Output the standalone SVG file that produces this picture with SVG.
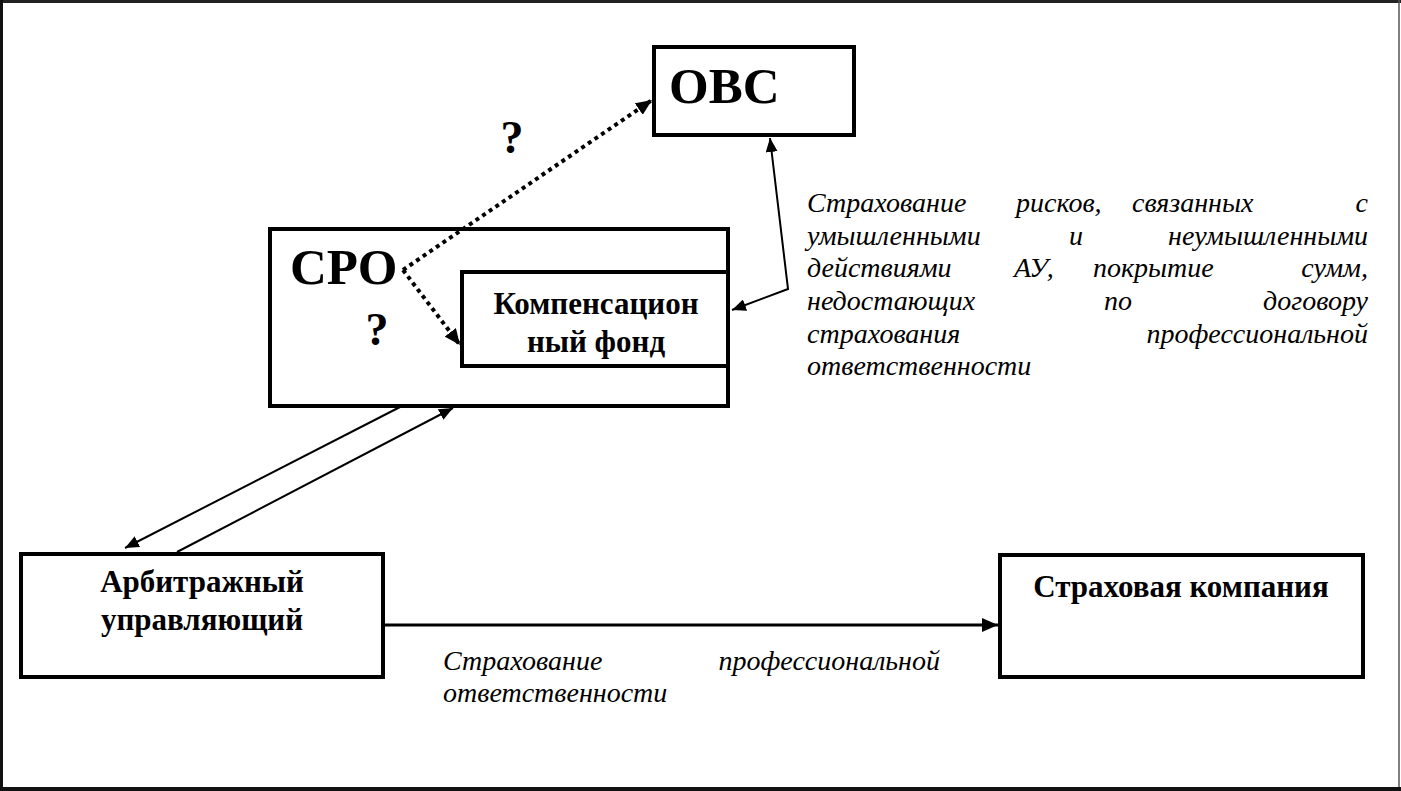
<svg xmlns="http://www.w3.org/2000/svg" width="1401" height="791" viewBox="0 0 1401 791">
<style>
.box{fill:#fff;stroke:#000;stroke-width:4}
.b{font-family:'Liberation Serif','Tinos','Times New Roman','DejaVu Serif',serif;font-weight:bold;fill:#000}
.i{font-family:'Liberation Serif','Tinos','Times New Roman','DejaVu Serif',serif;font-style:italic;font-size:28px;fill:#000}
.big{font-size:51px}
.mid{font-size:31px}
.q{font-size:46px}
.thin{fill:none;stroke:#000;stroke-width:2}
.dot{fill:none;stroke:#000;stroke-width:4;stroke-dasharray:4 4}
</style>
<defs>
<marker id="ah" viewBox="0 0 14 12" refX="14" refY="6" markerWidth="14" markerHeight="12" orient="auto-start-reverse" markerUnits="userSpaceOnUse"><path d="M0,0 L14,6 L0,12 z" fill="#000"/></marker>
<marker id="ahd" viewBox="0 0 16 14" refX="16" refY="7" markerWidth="16" markerHeight="14" orient="auto" markerUnits="userSpaceOnUse"><path d="M0,0 L16,7 L0,14 z" fill="#000"/></marker>
</defs>
<rect width="1401" height="791" fill="#fff"/>
<g id="frame">
<line x1="0" y1="1.5" x2="1401" y2="1.5" stroke="#222" stroke-width="3"/>
<line x1="1.5" y1="0" x2="1.5" y2="791" stroke="#111" stroke-width="3"/>
<line x1="1399" y1="0" x2="1399" y2="791" stroke="#555" stroke-width="1.5"/>
<line x1="0" y1="789" x2="1401" y2="789" stroke="#111" stroke-width="4"/>
</g>
<g id="ovs">
<rect class="box" x="654" y="47" width="200" height="88"/>
<text class="b big" x="669" y="103">ОВС</text>
</g>
<g id="sro">
<rect class="box" x="270" y="229" width="458" height="177"/>
<text class="b big" x="290" y="284">СРО</text>
</g>
<g id="fund">
<rect class="box" x="462" y="272" width="266" height="94"/>
<text class="b mid" x="596" y="314" text-anchor="middle">Компенсацион</text>
<text class="b mid" x="596" y="352" text-anchor="middle">ный фонд</text>
</g>
<g id="au">
<rect class="box" x="21" y="554" width="362" height="123"/>
<text class="b mid" x="202" y="592" text-anchor="middle">Арбитражный</text>
<text class="b mid" x="202" y="630" text-anchor="middle">управляющий</text>
</g>
<g id="insurer">
<rect class="box" x="1000" y="555" width="363" height="122"/>
<text class="b mid" x="1181" y="597" text-anchor="middle">Страховая компания</text>
</g>
<g id="connectors">
<path class="dot" d="M403,270 L652,100" marker-end="url(#ahd)"/>
<path class="dot" d="M403,270 L460,345" marker-end="url(#ahd)"/>
<path class="thin" d="M770,138 L788,289 L732,310" marker-start="url(#ah)" marker-end="url(#ah)"/>
<path class="thin" d="M400,407 L125,548" marker-end="url(#ah)"/>
<path class="thin" d="M177,552 L453,408" marker-end="url(#ah)"/>
<path class="thin" style="stroke-width:3" d="M385,625 L998,625" marker-end="url(#ahd)"/>
</g>
<g id="labels">
<text class="b q" x="512" y="153" text-anchor="middle">?</text>
<text class="b q" x="377" y="345" text-anchor="middle">?</text>
<text class="i" x="807" y="212">Страхование</text>
<text class="i" x="1016" y="212">рисков,</text>
<text class="i" x="1132" y="212">связанных</text>
<text class="i" x="1368" y="212" text-anchor="end">с</text>
<text class="i" x="807" y="245">умышленными</text>
<text class="i" x="1069" y="245">и</text>
<text class="i" x="1368" y="245" text-anchor="end">неумышленными</text>
<text class="i" x="807" y="277">действиями</text>
<text class="i" x="1014" y="277">АУ,</text>
<text class="i" x="1093" y="277">покрытие</text>
<text class="i" x="1368" y="277" text-anchor="end">сумм,</text>
<text class="i" x="807" y="310">недостающих</text>
<text class="i" x="1104" y="310">по</text>
<text class="i" x="1368" y="310" text-anchor="end">договору</text>
<text class="i" x="807" y="343">страхования</text>
<text class="i" x="1368" y="343" text-anchor="end">профессиональной</text>
<text class="i" x="807" y="375">ответственности</text>
<text class="i" x="443" y="670">Страхование</text>
<text class="i" x="940" y="670" text-anchor="end">профессиональной</text>
<text class="i" x="443" y="702">ответственности</text>
</g>
</svg>
